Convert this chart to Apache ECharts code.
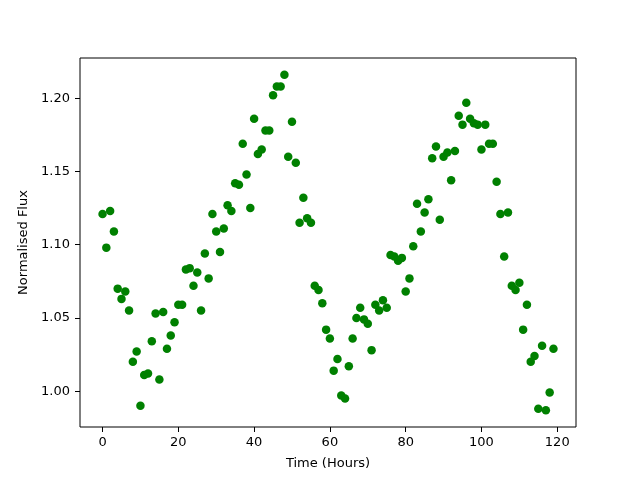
<!DOCTYPE html>
<html><head><meta charset="utf-8">
<script src="https://cdn.jsdelivr.net/npm/echarts@6/dist/echarts.min.js"></script>
<style>html,body{margin:0;padding:0;background:#fff}#c{width:640px;height:480px}</style>
</head><body><div id="c"></div>
<script>
const hours = [0,1,2,3,4,5,6,7,8,9,10,11,12,13,14,15,16,17,18,19,20,21,22,23,24,25,26,27,28,29,30,31,32,33,34,35,36,37,38,39,40,41,42,43,44,45,46,47,48,49,50,51,52,53,54,55,56,57,58,59,60,61,62,63,64,65,66,67,68,69,70,71,72,73,74,75,76,77,78,79,80,81,82,83,84,85,86,87,88,89,90,91,92,93,94,95,96,97,98,99,100,101,102,103,104,105,106,107,108,109,110,111,112,113,114,115,116,117,118,119];
const flux = [1.121,1.098,1.123,1.109,1.070,1.063,1.068,1.055,1.020,1.027,0.990,1.011,1.012,1.034,1.053,1.008,1.054,1.029,1.038,1.047,1.059,1.059,1.083,1.084,1.072,1.081,1.055,1.094,1.077,1.121,1.109,1.095,1.111,1.127,1.123,1.142,1.141,1.169,1.148,1.125,1.186,1.162,1.165,1.178,1.178,1.202,1.208,1.208,1.216,1.160,1.184,1.156,1.115,1.132,1.118,1.115,1.072,1.069,1.060,1.042,1.036,1.014,1.022,0.997,0.995,1.017,1.036,1.050,1.057,1.049,1.046,1.028,1.059,1.055,1.062,1.057,1.093,1.092,1.089,1.091,1.068,1.077,1.099,1.128,1.109,1.122,1.131,1.159,1.167,1.117,1.160,1.163,1.144,1.164,1.188,1.182,1.197,1.186,1.183,1.182,1.165,1.182,1.169,1.169,1.143,1.121,1.092,1.122,1.072,1.069,1.074,1.042,1.059,1.020,1.024,0.988,1.031,0.987,0.999,1.029];
const xTicks = [0,20,40,60,80,100,120];
const yTicks = [1.00,1.05,1.10,1.15,1.20];

const chart = echarts.init(document.getElementById('c'), null, {renderer:'canvas'});
const font = 'DejaVu Sans';
chart.setOption({
  animation:false,
  grid:{left:80,right:64,top:58,bottom:53,show:true,borderColor:'#000',borderWidth:1,backgroundColor:'#fff'},
  xAxis:{type:'value',min:-5.95,max:124.95,
    name:'Time (Hours)',nameLocation:'middle',nameGap:30,
    nameTextStyle:{fontFamily:font,fontSize:13,color:'#000'},
    axisLine:{show:false,onZero:false},splitLine:{show:false},
    axisTick:{show:true,inside:false,length:5,lineStyle:{color:'#000'},customValues:xTicks},
    axisLabel:{fontFamily:font,fontSize:13,color:'#000',margin:9,customValues:xTicks,formatter:v=>String(v)}
  },
  yAxis:{type:'value',min:0.9755,max:1.2275,
    name:'Normalised Flux',nameLocation:'middle',nameGap:50,
    nameTextStyle:{fontFamily:font,fontSize:13,color:'#000'},
    axisLine:{show:false,onZero:false},splitLine:{show:false},
    axisTick:{show:true,inside:false,length:5,lineStyle:{color:'#000'},customValues:yTicks},
    axisLabel:{fontFamily:font,fontSize:13,color:'#000',margin:10,customValues:yTicks,formatter:v=>v.toFixed(2)}
  },
  series:[{type:'scatter',symbol:'circle',symbolSize:8.5,
    itemStyle:{color:'#008000',opacity:1},
    data:hours.map((h,i)=>[h,flux[i]])}]
});
</script></body></html>
